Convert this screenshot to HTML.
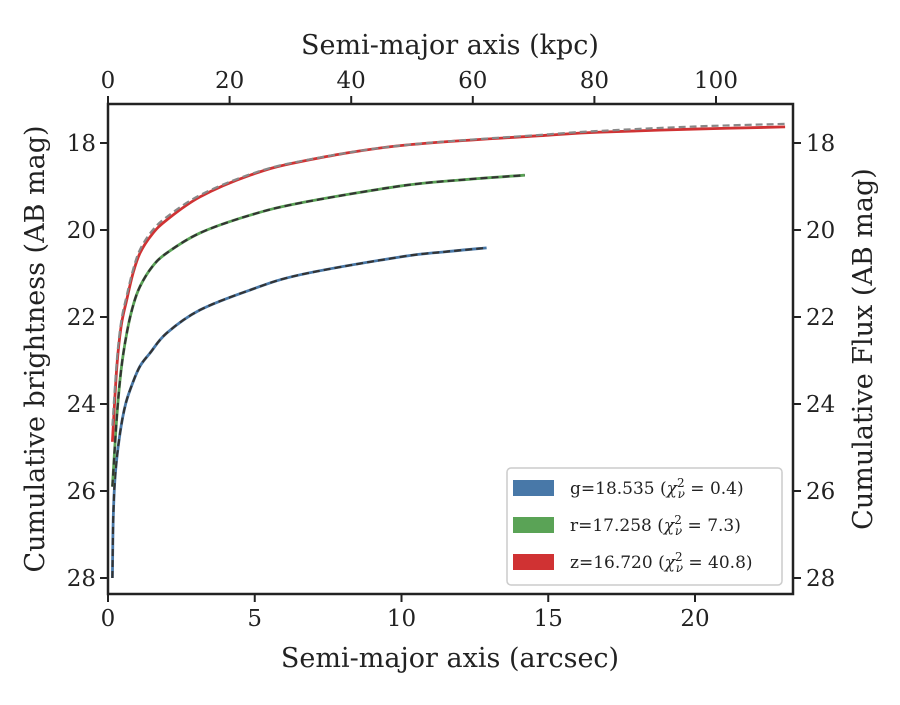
<!DOCTYPE html>
<html><head><meta charset="utf-8"><style>
body{margin:0;background:#fff}
svg text{font-family:"DejaVu Serif","Liberation Serif",serif;fill:#222}
</style></head><body>
<svg id="c" width="900" height="700" xmlns="http://www.w3.org/2000/svg"></svg>
<script>
const xTicks=[0,5,10,15,20];
const topTicks=[0,20,40,60,80,100];
const yTicks=[18,20,22,24,26,28];
const gR=[0.15,0.18,0.25,0.41,0.6,0.85,1.1,1.43,2.0,3.13,4.84,6.54,9.95,11.5,12.9];
const gM=[28.0,26.6,25.6,24.67,24.0,23.5,23.12,22.83,22.37,21.84,21.38,21.03,20.62,20.5,20.41];
const rR=[0.15,0.3,0.45,0.64,0.85,1.09,1.5,2.0,3.13,4.84,6.54,9.95,12,14.2];
const rM=[25.9,24.3,23.2,22.37,21.75,21.3,20.85,20.53,20.07,19.66,19.38,18.99,18.85,18.74];
const zR=[0.15,0.3,0.45,0.64,0.85,1.09,1.5,2.0,3.13,4.84,6.54,9.95,15,16.8,20,23.07];
const zM=[24.87,23.15,22.2,21.6,21.0,20.53,20.1,19.77,19.24,18.74,18.43,18.06,17.82,17.75,17.68,17.63];
const zModelM=[24.5,23.0,22.1,21.5,20.92,20.45,20.02,19.7,19.2,18.72,18.42,18.06,17.8,17.72,17.62,17.56];
const legendLabels=["g=18.535","r=17.258","z=16.720"];
const chiVals=["0.4","7.3","40.8"];

const L=108,R=793,T=104,B=594;
const xs=r=>L+r*29.35;
const ys=m=>143+(m-18)*43.5;
const xk=k=>L+k*6.08;
const NS="http://www.w3.org/2000/svg";
const svg=document.getElementById('c');
function el(t,a,p){const e=document.createElementNS(NS,t);for(const k in a)e.setAttribute(k,a[k]);(p||svg).appendChild(e);return e;}
function path(R_,M_){
  const P=R_.map((r,i)=>[xs(r),ys(M_[i])]);
  let d="M"+P[0][0]+","+P[0][1];
  for(let i=0;i<P.length-1;i++){
    const p0=P[Math.max(0,i-1)],p1=P[i],p2=P[i+1],p3=P[Math.min(P.length-1,i+2)];
    const c1=[p1[0]+(p2[0]-p0[0])/6,p1[1]+(p2[1]-p0[1])/6];
    const c2=[p2[0]-(p3[0]-p1[0])/6,p2[1]-(p3[1]-p1[1])/6];
    d+=` C${c1[0]},${c1[1]} ${c2[0]},${c2[1]} ${p2[0]},${p2[1]}`;
  }
  return d;
}
const series=[[gR,gM,gM,"#4878a8","#333"],[rR,rM,rM,"#5aa356","#333"],[zR,zM,zModelM,"#d03233","#888"]];
const names=["g","r","z"];
series.forEach((s,i)=>{
  const a=el('path',{d:path(s[0],s[1]),fill:'none',stroke:s[3],'stroke-width':2.8});
  
  
  const b=el('path',{d:path(s[0],s[2]),fill:'none',stroke:s[4],'stroke-width':2.2,'stroke-dasharray':'7,4'});
  
  
});
el('rect',{x:L,y:T,width:R-L,height:B-T,fill:'none',stroke:'#222','stroke-width':2.5,});
xTicks.forEach(v=>{
  el('line',{x1:xs(v),x2:xs(v),y1:B,y2:B+8,stroke:'#222','stroke-width':2});
  const t=el('text',{x:xs(v),y:B+32,'text-anchor':'middle','font-size':23});t.textContent=v;
  
  
});
topTicks.forEach(v=>{
  el('line',{x1:xk(v),x2:xk(v),y1:T,y2:T-8,stroke:'#222','stroke-width':2});
  const t=el('text',{x:xk(v),y:T-16,'text-anchor':'middle','font-size':23});t.textContent=v;
  
  
});
yTicks.forEach(v=>{
  el('line',{x1:L,x2:L-8,y1:ys(v),y2:ys(v),stroke:'#222','stroke-width':2});
  el('line',{x1:R,x2:R+8,y1:ys(v),y2:ys(v),stroke:'#222','stroke-width':2});
  const t=el('text',{x:L-12,y:ys(v)+8,'text-anchor':'end','font-size':23});t.textContent=v;
  
  
  const t2=el('text',{x:R+13,y:ys(v)+8,'text-anchor':'start','font-size':23});t2.textContent=v;
  
  
});
function title(txt,x,y,rot,name){const t=el('text',{x:x,y:y,'text-anchor':'middle','font-size':27});if(rot)t.setAttribute('transform',`rotate(${rot} ${x} ${y})`);t.textContent=txt;
  
  }
title("Semi-major axis (arcsec)",450,667,0,'x-axis-title');
title("Semi-major axis (kpc)",450,54,0,'top-axis-title');
title("Cumulative brightness (AB mag)",44,349,-90,'y-axis-title');
title("Cumulative Flux (AB mag)",872,349,-90,'right-axis-title');
const lg=el('g',{});


el('rect',{x:507,y:468,width:275,height:117,rx:4,fill:'#fff',stroke:'#ccc','stroke-width':1.5},lg);
legendLabels.forEach((lab,i)=>{
  const y=488+i*37;
  el('rect',{x:513,y:y-8,width:41,height:16,fill:series[i][3]},lg);
  const t=el('text',{x:570,y:y+6,'font-size':17},lg);
  
  
  t.innerHTML=lab+' (<tspan font-style="italic">χ</tspan><tspan font-size="12" dy="-7">2</tspan><tspan font-size="12" font-style="italic" dx="-7" dy="11">ν</tspan><tspan dy="-4"> = '+chiVals[i]+')</tspan>';
});
</script>
</body></html>
